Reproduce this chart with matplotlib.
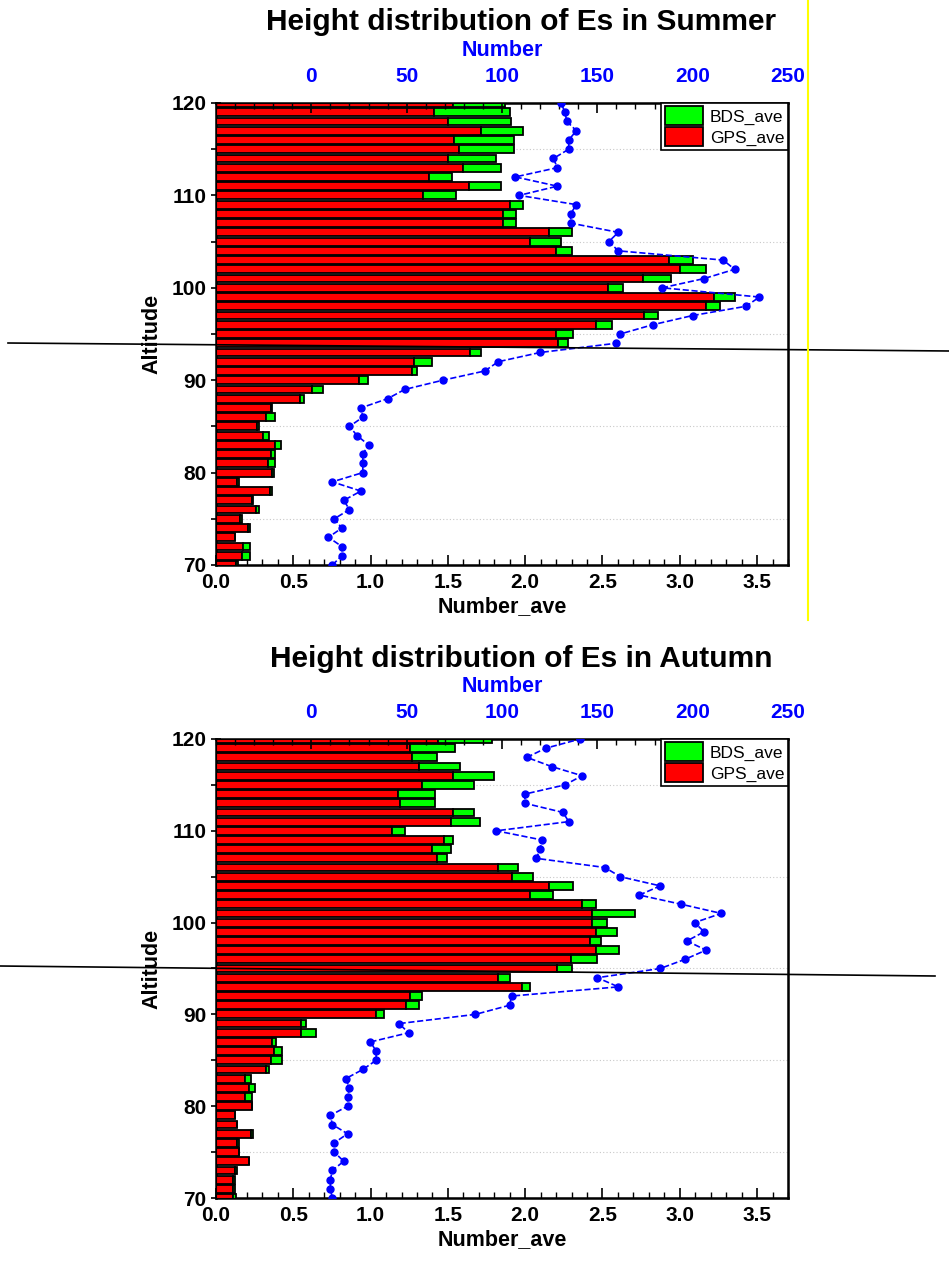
"""Height distribution of Es in summer and autumn: GPS/BDS averages and counts."""

import numpy as np
import matplotlib.pyplot as plt
from matplotlib.lines import Line2D
from matplotlib.ticker import MultipleLocator

plt.rcParams["font.family"] = ["Liberation Sans", "DejaVu Sans"]
plt.rcParams["font.weight"] = "bold"

altitude = list(range(70, 121))

summer_gps = [0.13, 0.166, 0.177, 0.123, 0.209, 0.153, 0.261, 0.235, 0.350, 0.138,
              0.365, 0.339, 0.354, 0.380, 0.307, 0.268, 0.326, 0.354, 0.542, 0.624,
              0.927, 1.268, 1.283, 1.644, 2.21, 2.20, 2.456, 2.77, 3.17, 3.22,
              2.536, 2.76, 3.00, 2.93, 2.20, 2.03, 2.154, 1.855, 1.855, 1.90,
              1.337, 1.635, 1.38, 1.60, 1.50, 1.57, 1.54, 1.715, 1.50, 1.41, 1.53]
summer_bds = [0.01, 0.056, 0.043, 0.0, 0.011, 0.013, 0.02, 0.005, 0.015, 0.013,
              0.013, 0.041, 0.028, 0.041, 0.034, 0.013, 0.056, 0.011, 0.026, 0.069,
              0.054, 0.03, 0.113, 0.067, 0.07, 0.11, 0.104, 0.09, 0.09, 0.14,
              0.094, 0.18, 0.17, 0.157, 0.10, 0.20, 0.146, 0.085, 0.085, 0.085,
              0.216, 0.21, 0.145, 0.245, 0.31, 0.355, 0.385, 0.27, 0.41, 0.49, 0.34]
summer_number = [11, 16, 16, 9, 16, 12, 20, 17, 26, 11,
                 27, 27, 27, 30, 24, 20, 27, 26, 40, 49,
                 69, 91, 98, 120, 160, 162, 179, 200, 228, 235,
                 184, 206, 222, 216, 161, 156, 161, 136, 136, 139,
                 109, 129, 107, 129, 127, 135, 135, 139, 134, 133, 131]

autumn_gps = [0.11, 0.112, 0.112, 0.121, 0.214, 0.149, 0.136, 0.229, 0.138, 0.121,
              0.235, 0.186, 0.214, 0.186, 0.326, 0.354, 0.376, 0.365, 0.553, 0.553,
              1.035, 1.229, 1.257, 1.979, 1.823, 2.206, 2.294, 2.456, 2.42, 2.458,
              2.432, 2.432, 2.368, 2.028, 2.154, 1.914, 1.823, 1.430, 1.396, 1.473,
              1.138, 1.517, 1.532, 1.188, 1.18, 1.331, 1.532, 1.316, 1.266, 1.257, 1.434]
autumn_bds = [0.02, 0.011, 0.011, 0.013, 0.0, 0.0, 0.011, 0.011, 0.0, 0.0,
              0.0, 0.049, 0.036, 0.043, 0.015, 0.076, 0.054, 0.022, 0.093, 0.028,
              0.054, 0.087, 0.074, 0.049, 0.08, 0.099, 0.173, 0.154, 0.073, 0.136,
              0.10, 0.278, 0.092, 0.152, 0.155, 0.136, 0.13, 0.063, 0.121, 0.059,
              0.087, 0.192, 0.14, 0.229, 0.237, 0.341, 0.265, 0.265, 0.164, 0.29, 0.353]
autumn_number = [11, 10, 10, 11, 17, 12, 12, 19, 11, 10,
                 19, 19, 20, 18, 27, 34, 34, 31, 51, 46,
                 86, 104, 105, 161, 150, 183, 196, 207, 197, 206,
                 201, 215, 194, 172, 183, 162, 154, 118, 120, 121,
                 97, 135, 132, 112, 112, 133, 142, 126, 113, 123, 141]

W, H = 949, 1261
GREEN = "#00FF00"
RED = "#FF0000"
BLUE = "#0000FF"


def draw_panel(fig, rect, season, gps, bds, number, title_y):
    ax = fig.add_axes(rect)
    gps = np.array(gps)
    bds = np.array(bds)
    bars_gps = ax.barh(altitude, gps, height=0.85, color=RED, edgecolor="black",
                       linewidth=1.3, zorder=3)
    bars_bds = ax.barh(altitude, bds, left=gps, height=0.85, color=GREEN,
                       edgecolor="black", linewidth=1.3, zorder=3)

    ax.set_xlim(0, 3.7)
    ax.set_ylim(70, 120)
    ax.xaxis.set_major_locator(MultipleLocator(0.5))
    ax.xaxis.set_minor_locator(MultipleLocator(0.1))
    ax.yaxis.set_major_locator(MultipleLocator(10))
    ax.yaxis.set_minor_locator(MultipleLocator(5))
    ax.xaxis.set_major_formatter(lambda v, p: f"{v:.1f}")
    ax.tick_params(axis="x", which="both", direction="in", labelsize=15, pad=6)
    ax.tick_params(axis="x", which="major", length=7, width=1.2)
    ax.tick_params(axis="x", which="minor", length=4, width=1.0)
    ax.tick_params(axis="y", which="both", direction="inout", labelsize=15, length=7, width=1.2)
    ax.grid(True, which="minor", axis="y", linestyle=(0, (1, 2)), color="#c8c8c8", linewidth=0.8, zorder=0)
    ax.set_xlabel("Number_ave", fontsize=15.5, fontweight="bold", labelpad=3)
    ax.set_ylabel("Altitude", fontsize=15.5, fontweight="bold", labelpad=6)
    for s in ax.spines.values():
        s.set_linewidth(1.8)

    ax2 = ax.twiny()
    ax2.plot(number, altitude, linestyle="--", color=BLUE, marker="o", markersize=5,
             linewidth=1.2, zorder=4, clip_on=True)
    ax2.set_xlim(-50, 250)
    ax2.set_xticks([0, 50, 100, 150, 200, 250])
    ax2.xaxis.set_minor_locator(MultipleLocator(10))
    ax2.tick_params(axis="x", which="both", direction="in", labelsize=15, labelcolor=BLUE, pad=12)
    ax2.tick_params(axis="x", which="major", length=7, width=1.2)
    ax2.tick_params(axis="x", which="minor", length=4, width=1.0)
    ax2.set_xlabel("Number", fontsize=15.5, fontweight="bold", color=BLUE, labelpad=8)

    handles = [bars_bds.patches[0], bars_gps.patches[0]]
    leg = ax2.legend(handles, ["BDS_ave", "GPS_ave"], loc="upper right", borderaxespad=0,
                     fancybox=False, framealpha=1, edgecolor="black",
                     prop={"weight": "normal", "size": 12.5}, handlelength=2.2,
                     handleheight=1.3, labelspacing=0.12, borderpad=0.2, handletextpad=0.4)
    leg.get_frame().set_linewidth(1.2)

    fig.text(521 / W, 1 - title_y / H, f"Height distribution of Es in {season}",
             ha="center", va="center", fontsize=21.5, fontweight="bold")
    return ax


def main() -> None:
    fig = plt.figure(figsize=(W / 100, H / 100), dpi=100)

    left = 216 / W
    width = (788 - 216) / W
    draw_panel(fig, [left, 1 - 565 / H, width, (565 - 103) / H], "Summer",
               summer_gps, summer_bds, summer_number, 22)
    draw_panel(fig, [left, 1 - 1198 / H, width, (1198 - 739) / H], "Autumn",
               autumn_gps, autumn_bds, autumn_number, 659)

    # stray marks present on the original figure
    fig.add_artist(Line2D([8 / W, 1.0], [1 - 343 / H, 1 - 351 / H], color="black", linewidth=1.2))
    fig.add_artist(Line2D([0.0, 935 / W], [1 - 966 / H, 1 - 976 / H], color="black", linewidth=1.2))
    fig.add_artist(Line2D([808 / W, 808 / W], [1.0, 1 - 620 / H], color="#FFFF00", linewidth=1.5))

    fig.savefig("out.png", dpi=100)


if __name__ == "__main__":
    main()
